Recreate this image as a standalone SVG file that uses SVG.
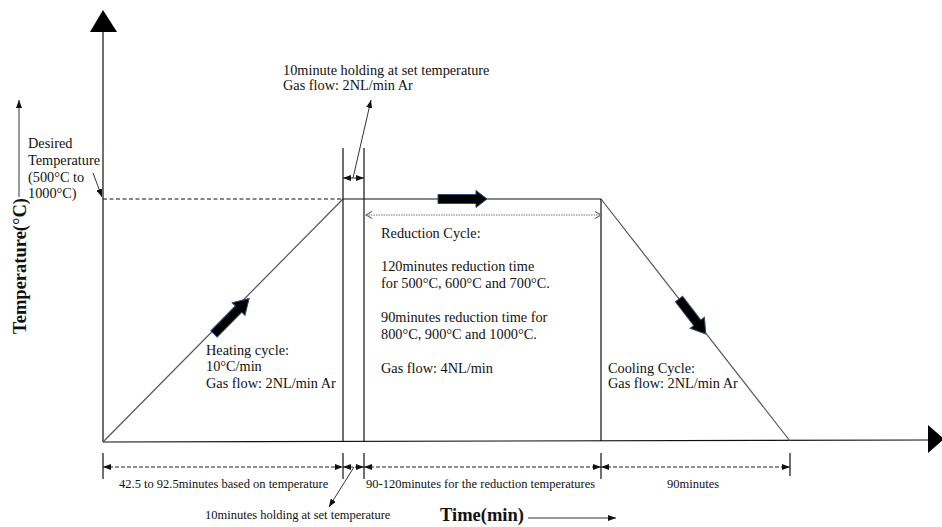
<svg xmlns="http://www.w3.org/2000/svg" width="942" height="527" viewBox="0 0 942 527">
<style>
text{font-family:"Liberation Serif","Times New Roman",serif;fill:#111}
.t14{font-size:14.3px}
.t12{font-size:12.5px}
.bold{font-weight:bold;font-size:18.5px}
.ln{stroke:#111;stroke-width:1.2;fill:none}
.gl{stroke:#555;stroke-width:1.2;fill:none}
.dash{stroke:#111;stroke-width:1;stroke-dasharray:4 2.5;fill:none}
.dim{stroke:#222;stroke-width:1;stroke-dasharray:4 2;fill:none;marker-start:url(#ah);marker-end:url(#ah)}
.ann{stroke:#333;stroke-width:1;fill:none;marker-end:url(#ah)}
.dot{stroke:#777;stroke-width:1.2;stroke-dasharray:1.5 1;fill:none;marker-start:url(#oh);marker-end:url(#oh)}
.blk{fill:#000;stroke:#2f4a78;stroke-width:1}
</style>
<defs>
<marker id="ah" viewBox="0 0 8 6" refX="8" refY="3" markerWidth="8" markerHeight="6" markerUnits="userSpaceOnUse" orient="auto-start-reverse">
<path d="M0,0 L8,3 L0,6 Z" fill="#111"/>
</marker>
<marker id="oh" viewBox="0 0 8 8" refX="7" refY="4" markerWidth="8" markerHeight="8" markerUnits="userSpaceOnUse" orient="auto-start-reverse">
<path d="M1,0.5 L7,4 L1,7.5" fill="none" stroke="#666" stroke-width="1.1"/>
</marker>
</defs>

<g id="axes">
<line class="ln" x1="103" y1="32" x2="103" y2="442"/>
<polygon points="90,32 103,10 117,32" fill="#000"/>
<line class="ln" x1="103" y1="442" x2="930" y2="440"/>
<polygon points="928,425 944,439 928,453" fill="#000"/>
</g>

<g id="y-label">
<line class="gl" x1="19" y1="197" x2="19" y2="100" style="marker-end:url(#ah)"/>
<text class="bold" transform="translate(26,266) rotate(-90)" text-anchor="middle">Temperature(°C)</text>
</g>

<g id="x-label">
<text class="bold" x="440" y="521">Time(min)</text>
<line class="ann" x1="528" y1="518" x2="616" y2="518"/>
</g>

<g id="profile">
<line class="dash" x1="103" y1="199" x2="343" y2="199"/>
<line class="gl" x1="103" y1="442" x2="343" y2="199"/>
<line class="ln" x1="343" y1="199" x2="601" y2="199"/>
<line class="gl" x1="601" y1="199" x2="790" y2="441"/>
<line class="ln" x1="343" y1="148" x2="343" y2="442"/>
<line class="ln" x1="364" y1="148" x2="364" y2="442"/>
<line class="ln" x1="601" y1="199" x2="601" y2="441"/>
</g>

<g id="desired-temperature">
<text class="t14" x="28"><tspan x="28" y="148">Desired</tspan><tspan x="28" y="165">Temperature</tspan><tspan x="28" y="182">(500°C to</tspan><tspan x="28" y="198">1000°C)</tspan></text>
<line class="ann" x1="93" y1="173" x2="102" y2="197"/>
</g>

<g id="holding-top">
<text class="t14"><tspan x="283" y="75">10minute holding at set temperature</tspan><tspan x="283" y="90">Gas flow: 2NL/min Ar</tspan></text>
<line class="dim" x1="343" y1="178" x2="364" y2="178" style="stroke-dasharray:none"/>
<line class="ann" x1="353" y1="178" x2="371" y2="100"/>
</g>

<g id="heating-cycle">
<path class="blk" transform="translate(214,334) rotate(-45.4)" d="M0,-4.5 L35,-4.5 L35,-9 L50,0 L35,9 L35,4.5 L0,4.5 Z"/>
<text class="t14"><tspan x="206" y="355">Heating cycle:</tspan><tspan x="206" y="371">10°C/min</tspan><tspan x="206" y="388">Gas flow: 2NL/min Ar</tspan></text>
</g>

<g id="reduction-cycle">
<path class="blk" transform="translate(438,199)" d="M0,-4.5 L38,-4.5 L38,-8.5 L49,0 L38,8.5 L38,4.5 L0,4.5 Z"/>
<line class="dot" x1="366" y1="215" x2="601" y2="215"/>
<text class="t14"><tspan x="381" y="238">Reduction Cycle:</tspan><tspan x="381" y="271">120minutes reduction time</tspan><tspan x="381" y="288">for 500°C, 600°C and 700°C.</tspan><tspan x="381" y="322">90minutes reduction time for</tspan><tspan x="381" y="339">800°C, 900°C and 1000°C.</tspan><tspan x="381" y="373">Gas flow: 4NL/min</tspan></text>
</g>

<g id="cooling-cycle">
<path class="blk" transform="translate(679,299) rotate(52.5)" d="M0,-4.5 L30,-4.5 L30,-9 L44,0 L30,9 L30,4.5 L0,4.5 Z"/>
<text class="t14"><tspan x="608" y="373">Cooling Cycle:</tspan><tspan x="608" y="388">Gas flow: 2NL/min Ar</tspan></text>
</g>

<g id="connectors">
<line class="ln" x1="103" y1="453" x2="103" y2="479"/>
<line class="ln" x1="343" y1="453" x2="343" y2="479"/>
<line class="ln" x1="364" y1="453" x2="364" y2="479"/>
<line class="ln" x1="601" y1="453" x2="601" y2="479"/>
<line class="ln" x1="790" y1="453" x2="790" y2="476"/>
<line class="dim" x1="103" y1="467" x2="343" y2="467"/>
<line class="dim" x1="343" y1="467" x2="364" y2="467"/>
<line class="dim" x1="364" y1="467" x2="601" y2="467"/>
<line class="dim" x1="601" y1="467" x2="790" y2="467"/>
<line class="ann" x1="354" y1="467" x2="329" y2="507"/>
</g>

<g id="duration-labels">
<text class="t12" x="119" y="488">42.5 to 92.5minutes based on temperature</text>
<text class="t12" x="366" y="488">90-120minutes for the reduction temperatures</text>
<text class="t12" x="667" y="488">90minutes</text>
<text class="t12" x="205" y="519">10minutes holding at set temperature</text>
</g>
</svg>
